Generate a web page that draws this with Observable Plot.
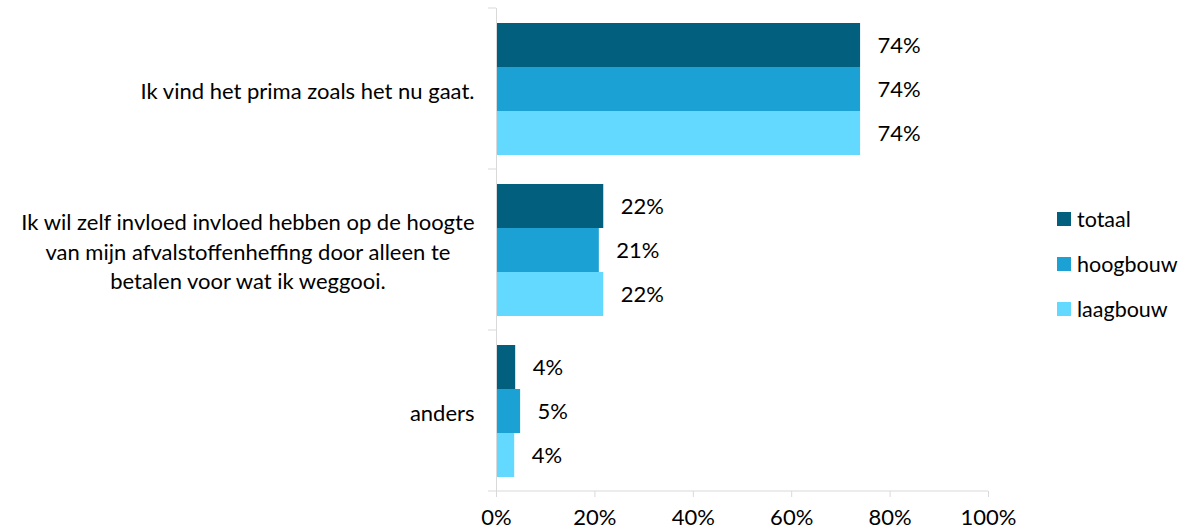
<!DOCTYPE html>
<html><head><meta charset="utf-8">
<script src="https://cdn.jsdelivr.net/npm/d3@7"></script>
<script src="https://cdn.jsdelivr.net/npm/@observablehq/plot@0.6"></script>
<style>
body{margin:0;background:#fff;}
#wrap{position:relative;width:1196px;height:532px;font-family:Lato,"Open Sans",sans-serif;color:#000;}
#legend{position:absolute;left:1057px;top:196px;font-size:21.5px;}
#legend .row{display:flex;align-items:center;height:45px;}
#legend .sw{width:14px;height:14px;margin-right:6px;}
</style></head><body><div id="wrap"><div id="chart"></div><div id="legend"></div></div>
<script>
const questions = [
  "Ik vind het prima zoals het nu gaat.",
  "Ik wil zelf invloed invloed hebben op de hoogte van mijn afvalstoffenheffing door alleen te betalen voor wat ik weggooi.",
  "anders"
];
const questionLabels = [
  "Ik vind het prima zoals het nu gaat.",
  "Ik wil zelf invloed invloed hebben op de hoogte\nvan mijn afvalstoffenheffing door alleen te\nbetalen voor wat ik weggooi.",
  "anders"
];
const series = ["totaal", "hoogbouw", "laagbouw"];
const totaal   = [74.0, 21.8, 3.9];
const hoogbouw = [74.0, 20.9, 4.9];
const laagbouw = [74.0, 21.8, 3.7];
const valueLabels = {totaal: ["74%","22%","4%"], hoogbouw: ["74%","21%","5%"], laagbouw: ["74%","22%","4%"]};
const colors = ["#035f7e", "#1ba1d3", "#63d9ff"];
const xTicks = [0, 20, 40, 60, 80, 100];

const seriesValues = {totaal, hoogbouw, laagbouw};
const data = questions.flatMap((q, i) => series.map(s => ({q, s, v: seriesValues[s][i], label: valueLabels[s][i]})));

const chart = Plot.plot({
  width: 1196, height: 532,
  marginLeft: 496, marginRight: 208, marginTop: 7, marginBottom: 41,
  style: {fontFamily: "Lato, 'Open Sans', sans-serif", fontSize: "22px", color: "#000", background: "transparent"},
  x: {domain: [0, 100], label: null},
  fy: {domain: questions, padding: 0, label: null},
  y: {domain: series, paddingInner: 0, paddingOuter: 0.304, axis: null},
  color: {domain: series, range: colors},
  marks: [
    Plot.barX(data, {x: "v", y: "s", fy: "q", fill: "s"}),
    Plot.text(data, {x: "v", y: "s", fy: "q", text: "label", textAnchor: "start", dx: 17, fill: "#000"}),
    Plot.ruleX([0], {stroke: "#d9d9d9"}),
    Plot.axisX({ticks: xTicks, tickFormat: d => d + "%", tickSize: 6, tickPadding: 12, stroke: "#d9d9d9", fill: "#000", label: null}),
    Plot.axisFy({anchor: "left", tickSize: 0, tickPadding: 22, label: null, lineHeight: 1.36, fill: "#000",
      tickFormat: q => questionLabels[questions.indexOf(q)]})
  ]
});
document.getElementById("chart").appendChild(chart);

// separators and bottom axis line using the plot's scales
const svg = d3.select(chart);
const fy = chart.scale("fy"), x = chart.scale("x");
const x0 = x.apply(0), x100 = x.apply(100);
const bounds = questions.map(q => fy.apply(q)).concat([fy.apply(questions[questions.length - 1]) + fy.bandwidth]);
const g = svg.append("g").attr("stroke", "#d9d9d9");
bounds.forEach(b => g.append("line").attr("x1", x0 - 8).attr("x2", x0).attr("y1", b).attr("y2", b));
const yb = bounds[bounds.length - 1];
g.append("line").attr("x1", x0).attr("x2", x100).attr("y1", yb).attr("y2", yb);

// center multi-line category labels like the original
svg.selectAll('g[aria-label="fy-axis tick label"] text').each(function() {
  const tspans = d3.select(this).selectAll("tspan");
  if (tspans.size() > 1) {
    let maxW = 0;
    tspans.each(function() { maxW = Math.max(maxW, this.getComputedTextLength()); });
    d3.select(this).attr("text-anchor", "middle");
    tspans.attr("x", -maxW / 2);
  }
});

const legend = d3.select("#legend");
series.forEach((s, i) => {
  const row = legend.append("div").attr("class", "row");
  row.append("div").attr("class", "sw").style("background", colors[i]);
  row.append("span").text(s);
});
</script>
</body></html>
